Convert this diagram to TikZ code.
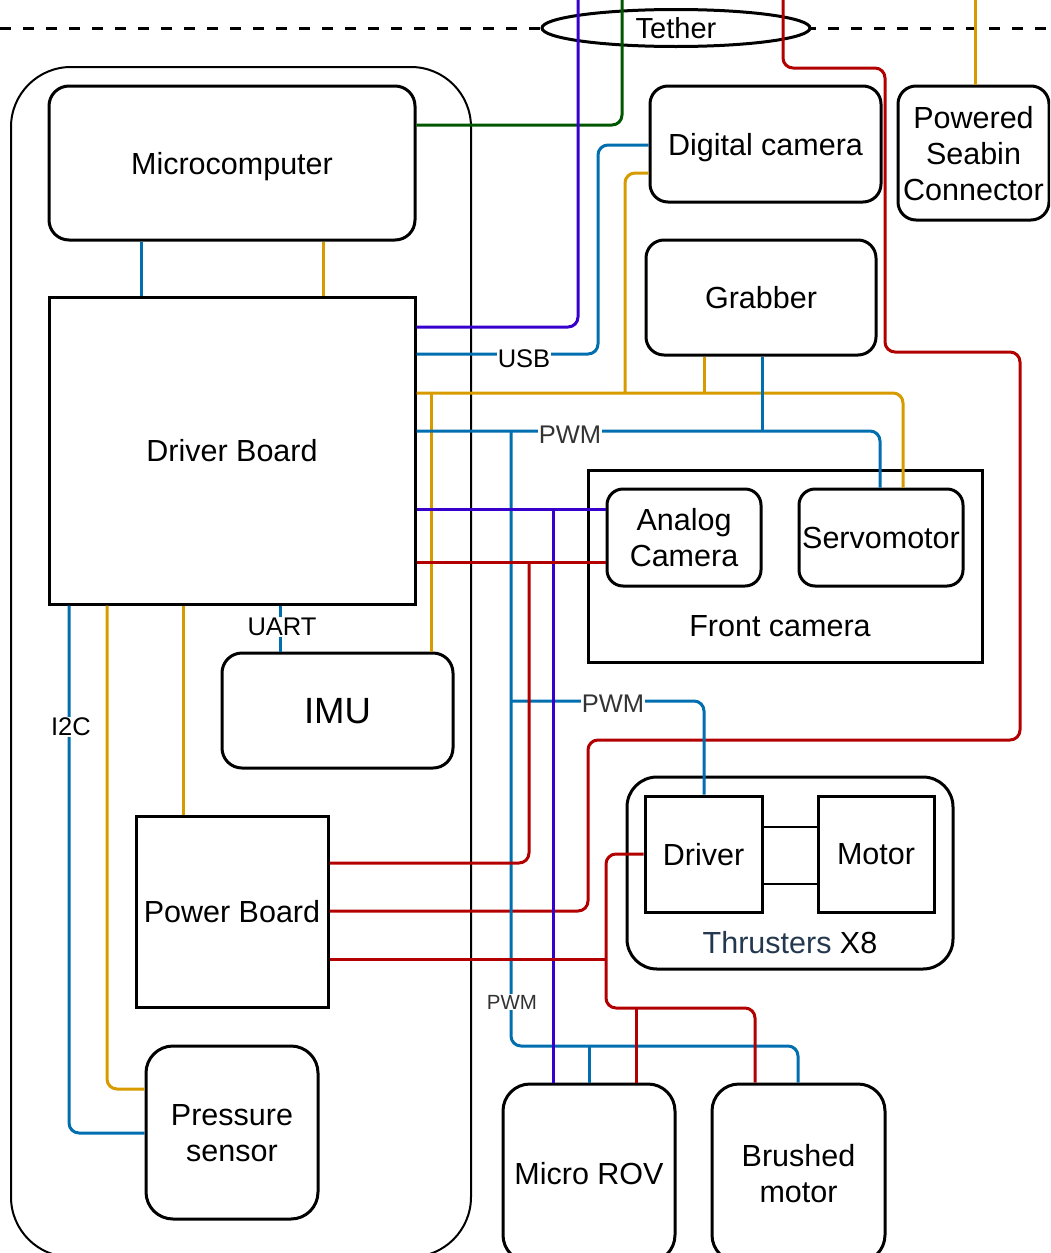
\documentclass[tikz,border=0pt]{standalone}
\usepackage{fontspec}
\setmainfont{Liberation Sans}
\usetikzlibrary{shapes.geometric}
\definecolor{cblue}{HTML}{006EAF}
\definecolor{cgold}{HTML}{D79B00}
\definecolor{cred}{HTML}{B20000}
\definecolor{cpurple}{HTML}{3700CC}
\definecolor{cgreen}{HTML}{005700}
\definecolor{cslate}{HTML}{23384F}
\definecolor{cgrey}{HTML}{333333}
\newcommand\fmain{\fontsize{30.5}{36}\selectfont}
\newcommand\flbl{\fontsize{25.5}{30}\selectfont}
\newcommand\fsmall{\fontsize{20.5}{24}\selectfont}
\newcommand\fimu{\fontsize{36.5}{42}\selectfont}
\tikzset{
  rbox/.style={draw, line width=3pt, fill=white, rounded corners=#1, inner sep=0pt, align=center, font=\fmain, text depth=0pt},
  rbox/.default=20pt,
  sbox/.style={draw, line width=3pt, fill=white, inner sep=0pt, align=center, font=\fmain, text depth=0pt},
  wire/.style={line width=3pt, rounded corners=10pt},
  thin wire/.style={line width=1.5pt},
  lbl/.style={fill=white, inner sep=1pt, font=\flbl, text depth=0pt},
  txt/.style={inner sep=0pt, font=\fmain, align=center, text depth=0pt}
}
\begin{document}
\begin{tikzpicture}[x=1pt,y=-1pt]
\useasboundingbox (0,0) rectangle (1050,1253);
\clip (0,0) rectangle (1050,1253);

% tether line
\coordinate (dl) at (0,28);
\coordinate (dr) at (1050,28);
\draw[line width=3pt, dash pattern=on 11pt off 12pt] (dl) -- (dr);
\node[draw, ellipse, line width=3pt, fill=white, minimum width=268pt, minimum height=37pt, inner sep=0pt, text depth=0pt, font=\fontsize{29}{34}\selectfont] (tether) at (676,28) {Tether};

% outer container
\node[draw, line width=2pt, rounded corners=60pt, minimum width=460pt, minimum height=1190pt, inner sep=0pt] (outer) at (241,662) {};

% boxes
\node[rbox, minimum width=366pt, minimum height=154pt] (mc) at (232,163) {Microcomputer};
\node[sbox, minimum width=366pt, minimum height=307pt] (drv) at (232,450.5) {Driver Board};
\node[rbox, minimum width=231pt, minimum height=115pt, font=\fimu] (imu) at (337.5,710.5) {IMU};
\node[sbox, minimum width=192pt, minimum height=191pt] (pwr) at (232,911.5) {Power Board};
\node[rbox=27pt, minimum width=172pt, minimum height=173pt] (ps) at (232,1132.5) {Pressure\\sensor};
\node[rbox=18pt, minimum width=231pt, minimum height=116pt] (dcam) at (765.5,144) {Digital camera};
\node[rbox=18pt, minimum width=230pt, minimum height=115pt] (grab) at (761,297.5) {Grabber};
\node[rbox=18pt, minimum width=151pt, minimum height=134pt] (psc) at (973.5,153) {Powered\\Seabin\\Connector};
\node[sbox, minimum width=394pt, minimum height=192pt] (fcam) at (785,566) {};
\node[txt] (fcaml) at (780,626) {Front camera};
\node[rbox=16pt, minimum width=154pt, minimum height=97pt] (acam) at (684,537.5) {Analog\\Camera};
\node[rbox=16pt, minimum width=164pt, minimum height=97pt] (servo) at (881,537.5) {Servomotor};
\node[rbox=30pt, minimum width=326pt, minimum height=192pt] (thr) at (790,873) {};
\node[txt] (thrl) at (790,942) {\textcolor{cslate}{Thrusters} X8};
\node[sbox, minimum width=117pt, minimum height=116pt] (tdrv) at (703.5,854) {Driver};
\node[sbox, minimum width=116pt, minimum height=116pt] (tmot) at (876,854) {Motor};
\node[rbox=27pt, minimum width=172pt, minimum height=178pt] (rov) at (589,1173) {Micro ROV};
\node[rbox=27pt, minimum width=173pt, minimum height=178pt] (brm) at (798.5,1173) {Brushed\\motor};

% free ends at the top
\coordinate (ptop) at (578,0);
\coordinate (gtop) at (622,0);
\coordinate (rtop) at (783,0);
\coordinate (ytop) at (975,0);

% tether wires
\draw[wire, cgreen] (mc.east |- 0,125) -| (gtop);
\draw[wire, cpurple] (drv.east |- 0,327) -| (ptop);
\draw[wire, cred] (rtop) -- (783,68) -- (885,68) -- (885,352) -- (1020,352) -- (1020,740) -- (588,740) -- (588,911) -- (pwr.east |- 0,911);
\draw[wire, cgold] (ytop) -- (psc.north -| 975,0);

% microcomputer - driver board
\draw[wire, cblue] (mc.south -| 141,0) -- (drv.north -| 141,0);
\draw[wire, cgold] (mc.south -| 323,0) -- (drv.north -| 323,0);

% USB
\draw[wire, cblue] (drv.east |- 0,354) -- (598,354) -- (598,145) -- (dcam.west |- 0,145);
\node[lbl] (usb) at (524,359) {USB};

% gold bus
\draw[wire, cgold] (drv.east |- 0,393) -- (903,393) -- (servo.north -| 903,0);
\draw[wire, cgold] (625,393) -- (625,173) -- (dcam.west |- 0,173);
\draw[wire, cgold] (grab.south -| 704,0) -- (704,393);
\draw[wire, cgold] (431,393) -- (imu.north -| 431,0);

% PWM bus
\draw[wire, cblue] (drv.east |- 0,431) -- (880,431) -- (servo.north -| 880,0);
\draw[wire, cblue] (grab.south -| 762,0) -- (762,431);
\draw[wire, cblue] (511,431) -- (511,1046) -- (798,1046) -- (brm.north -| 798,0);
\draw[wire, cblue] (589,1046) -- (rov.north -| 589,0);
\draw[wire, cblue] (511,701) -- (704,701) -- (tdrv.north -| 704,0);
\node[lbl, text=cgrey] (pwm1) at (570,435) {PWM};
\node[lbl, text=cgrey] (pwm2) at (613,704) {PWM};
\node[lbl, text=cgrey, font=\fsmall] (pwm3) at (512,1002) {PWM};

% analog camera video / power
\draw[wire, cpurple] (drv.east |- 0,509) -- (acam.west |- 0,509);
\draw[wire, cpurple] (553,509) -- (rov.north -| 553,0);
\draw[wire, cred] (drv.east |- 0,562) -- (acam.west |- 0,562);
\draw[wire, cred] (529,562) -- (529,863) -- (pwr.east |- 0,863);

% power to thrusters, micro ROV, brushed motor
\draw[wire, cred] (pwr.east |- 0,959) -- (606,959);
\draw[wire, cred] (tdrv.west |- 0,854) -- (606,854) -- (606,1008) -- (755,1008) -- (brm.north -| 755,0);
\draw[wire, cred] (636,1008) -- (rov.north -| 636,0);

% driver - motor
\draw[thin wire] (tdrv.east |- 0,827) -- (tmot.west |- 0,827);
\draw[thin wire] (tdrv.east |- 0,884) -- (tmot.west |- 0,884);

% lower left
\draw[wire, cblue] (drv.south -| 280,0) -- (imu.north -| 280,0);
\node[lbl] (uart) at (282,627) {UART};
\draw[wire, cblue] (drv.south -| 69,0) -- (69,1133) -- (ps.west |- 0,1133);
\node[lbl] (i2c) at (71,727) {I2C};
\draw[wire, cgold] (drv.south -| 107,0) -- (107,1089) -- (ps.west |- 0,1089);
\draw[wire, cgold] (drv.south -| 183,0) -- (pwr.north -| 183,0);
\end{tikzpicture}
\end{document}
